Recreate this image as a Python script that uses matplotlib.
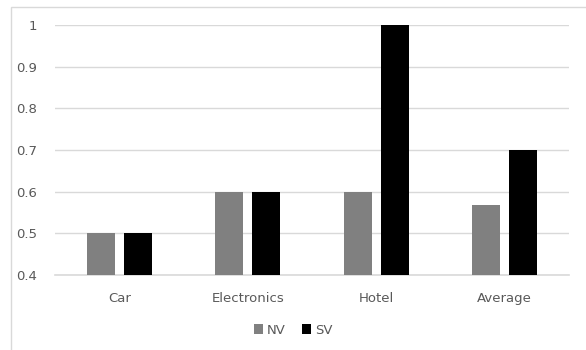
import matplotlib.pyplot as plt
import numpy as np
from matplotlib.patches import Rectangle

categories = ['Car', 'Electronics', 'Hotel', 'Average']
nv = [0.5, 0.6, 0.6, 0.567]
sv = [0.5, 0.6, 1.0, 0.7]
yticks = [0.4, 0.5, 0.6, 0.7, 0.8, 0.9, 1.0]
ytick_labels = ['0.4', '0.5', '0.6', '0.7', '0.8', '0.9', '1']

plt.rcParams['font.family'] = 'DejaVu Sans'
txt = '#595959'
grid = '#d9d9d9'

fig = plt.figure(figsize=(5.86, 3.5), dpi=100)
# outer chart border (right and bottom run off the picture)
fig.patches.append(Rectangle((11/586, -0.1), 1.2, 1 - 7/350 + 0.1, transform=fig.transFigure,
                             fill=False, edgecolor=grid, linewidth=1))
ax = fig.add_axes([55/586, 1 - 275/350, 514/586, 250/350])

x = np.arange(len(categories))
w = 0.218
gap = 0.07
ax.bar(x - (w + gap) / 2, nv, w, color='#808080', label='NV', zorder=3)
ax.bar(x + (w + gap) / 2, sv, w, color='#000000', label='SV', zorder=3)

ax.set_xlim(-0.5, len(categories) - 0.5)
ax.set_ylim(0.4, 1.0)
ax.set_yticks(yticks)
ax.set_yticklabels(ytick_labels)
ax.set_xticks(x)
ax.set_xticklabels(categories)
ax.tick_params(axis='both', length=0, colors=txt, labelsize=9.5)
ax.tick_params(axis='y', pad=13)
ax.tick_params(axis='x', pad=12)
ax.yaxis.grid(True, color=grid, linewidth=1, zorder=0)
for s in ['top', 'right', 'left']:
    ax.spines[s].set_visible(False)
ax.spines['bottom'].set_color(grid)
ax.spines['bottom'].set_linewidth(1.2)

leg = fig.legend(loc='center', bbox_to_anchor=(0.5, 1 - 330/350), ncol=2, frameon=False,
                 fontsize=9.5, handlelength=0.7, handleheight=0.7, handletextpad=0.3,
                 columnspacing=1.2, labelcolor=txt)

fig.savefig('out.png', dpi=100)
